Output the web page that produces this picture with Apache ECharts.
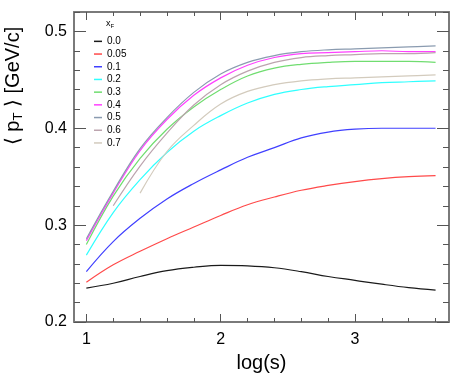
<!DOCTYPE html>
<html>
<head>
<meta charset="utf-8">
<script src="https://cdn.jsdelivr.net/npm/echarts@6/dist/echarts.min.js"></script>
<style>
html, body { margin: 0; padding: 0; background: #fff; }
#main { width: 463px; height: 381px; }
</style>
</head>
<body>
<div id="main"></div>
<script>
// log(s) sample points
var xs = [1.0, 1.2, 1.4, 1.6, 1.8, 2.0, 2.2, 2.4, 2.6, 2.8, 3.0, 3.2, 3.4, 3.6];

// <pT> per xF (null = curve not drawn there)
var y00  = [0.235, 0.240, 0.247, 0.253, 0.2565, 0.2585, 0.258, 0.256, 0.252, 0.247, 0.243, 0.239, 0.2355, 0.233];
var y005 = [0.241, 0.259, 0.273, 0.286, 0.298, 0.310, 0.321, 0.329, 0.336, 0.341, 0.345, 0.348, 0.350, 0.351];
var y01  = [0.252, 0.283, 0.307, 0.327, 0.343, 0.357, 0.370, 0.380, 0.390, 0.396, 0.399, 0.400, 0.400, 0.400];
var y02  = [0.269, 0.313, 0.347, 0.375, 0.397, 0.413, 0.426, 0.435, 0.440, 0.443, 0.445, 0.447, 0.448, 0.449];
var y03  = [0.280, 0.330, 0.369, 0.399, 0.422, 0.440, 0.454, 0.462, 0.466, 0.468, 0.469, 0.469, 0.469, 0.468];
var y04  = [0.284, 0.333, 0.377, 0.409, 0.434, 0.452, 0.465, 0.473, 0.477, 0.478, 0.479, 0.480, 0.479, 0.479];
var y05  = [0.286, 0.335, 0.379, 0.411, 0.437, 0.456, 0.468, 0.475, 0.479, 0.481, 0.482, 0.483, 0.484, 0.485];
var y06  = [null, 0.320, 0.361, 0.395, 0.424, 0.445, 0.459, 0.468, 0.473, 0.475, 0.476, 0.477, 0.477, 0.478];
var y07  = [null, null, 0.333, 0.376, 0.403, 0.425, 0.438, 0.445, 0.449, 0.451, 0.452, 0.453, 0.454, 0.455];

var names = ['0.0', '0.05', '0.1', '0.2', '0.3', '0.4', '0.5', '0.6', '0.7'];
var curves = [y00, y005, y01, y02, y03, y04, y05, y06, y07];
var colors = ['#1a1a1a', '#ff4a4a', '#4040ff', '#30ffff', '#70dd70', '#ff40ff', '#8a9bb0', '#bca4ae', '#d3cbbd'];

// tick values
var xMajor = [1, 2, 3];
var xMinor = [1.2, 1.4, 1.6, 1.8, 2.2, 2.4, 2.6, 2.8, 3.2, 3.4, 3.6];
var yMajor = [0.2, 0.3, 0.4, 0.5];
var yMinor = [0.22, 0.24, 0.26, 0.28, 0.32, 0.34, 0.36, 0.38, 0.42, 0.44, 0.46, 0.48, 0.52];

var FONT = 'Liberation Sans';
var axisCol = '#7a7a7a';

function pairs(arr) {
	var out = [];
	for (var i = 0; i < xs.length; i++) {
		if (arr[i] != null) out.push([xs[i], arr[i]]);
	}
	return out;
}

function xAx(pos, vals, len, showLine, showLabel) {
	return {
		type: 'value', min: 0.908, max: 3.70, position: pos,
		axisLine: {show: showLine, onZero: false, lineStyle: {color: axisCol, width: 2}},
		axisTick: {show: true, inside: true, length: len, customValues: vals, lineStyle: {color: '#555', width: 1}},
		axisLabel: {show: showLabel, customValues: vals, fontSize: 16, fontFamily: FONT, color: '#000', margin: 10},
		splitLine: {show: false}
	};
}
function yAx(pos, vals, len, showLine, showLabel) {
	return {
		type: 'value', min: 0.2, max: 0.52, position: pos,
		axisLine: {show: showLine, onZero: false, lineStyle: {color: axisCol, width: 2}},
		axisTick: {show: true, inside: true, length: len, customValues: vals, lineStyle: {color: '#555', width: 1}},
		axisLabel: {show: showLabel, customValues: vals, fontSize: 16, fontFamily: FONT, color: '#000', margin: 7},
		splitLine: {show: false}
	};
}

var xMain = xAx('bottom', xMajor, 8, true, true);
xMain.name = 'log(s)';
xMain.nameLocation = 'middle';
xMain.nameGap = 31;
xMain.nameTextStyle = {fontSize: 20, fontFamily: FONT, color: '#000'};

var series = [];
for (var i = 0; i < names.length; i++) {
	series.push({
		name: names[i],
		type: 'line',
		xAxisIndex: 0,
		yAxisIndex: 0,
		smooth: 0.4,
		symbol: 'none',
		lineStyle: {width: 1.2, color: colors[i]},
		itemStyle: {color: colors[i]},
		data: pairs(curves[i])
	});
}

var myChart = echarts.init(document.getElementById('main'));
myChart.setOption({
	animation: false,
	grid: {left: 74, right: 14, top: 12, bottom: 59, containLabel: false},
	xAxis: [
		xMain,
		xAx('bottom', xMinor, 4, false, false),
		xAx('top', xMajor, 8, true, false),
		xAx('top', xMinor, 4, false, false)
	],
	yAxis: [
		yAx('left', yMajor, 12, true, true),
		yAx('left', yMinor, 6, false, false),
		yAx('right', yMajor, 12, true, false),
		yAx('right', yMinor, 6, false, false)
	],
	legend: {
		orient: 'vertical',
		left: 94,
		top: 35,
		padding: 0,
		itemGap: 0,
		itemWidth: 8,
		itemHeight: 1.5,
		icon: 'rect',
		data: names,
		textStyle: {fontSize: 10, lineHeight: 12.7, fontFamily: FONT, color: '#000'}
	},
	graphic: [
		{
			type: 'text',
			x: 13,
			y: 86,
			rotation: Math.PI / 2,
			style: {
				text: '{a|⟨ p}{s|T}{a| ⟩ [GeV/c]}',
				align: 'center',
				verticalAlign: 'middle',
				fill: '#000',
				rich: {
					a: {fontSize: 20, fontFamily: FONT, fill: '#000', lineHeight: 22},
					s: {fontSize: 13, fontFamily: FONT, fill: '#000', lineHeight: 22, padding: [10, 0, 0, 0]}
				}
			}
		},
		{
			type: 'text',
			x: 106,
			y: 19,
			style: {
				text: '{a|x}{s|F}',
				fill: '#000',
				rich: {
					a: {fontSize: 9, fontFamily: FONT, fill: '#000', lineHeight: 10},
					s: {fontSize: 6, fontFamily: FONT, fill: '#000', lineHeight: 10, padding: [4, 0, 0, 0]}
				}
			}
		}
	],
	series: series
});
</script>
</body>
</html>
